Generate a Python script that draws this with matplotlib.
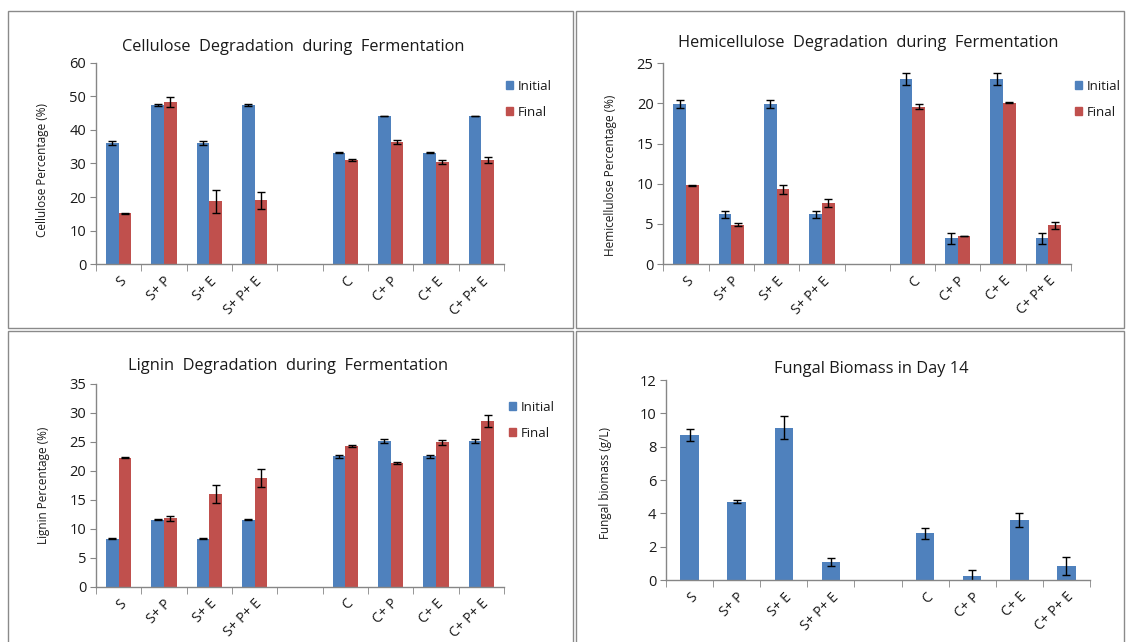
import matplotlib
matplotlib.use("Agg")
import matplotlib.pyplot as plt
from matplotlib.patches import Rectangle, Patch
from matplotlib.ticker import MultipleLocator, FixedLocator, NullFormatter
import numpy as np

plt.rcParams['font.family'] = ['Open Sans', 'DejaVu Sans']

# ---- data ----
categories = ["S", "S+ P", "S+ E", "S+ P+ E", "C", "C+ P", "C+ E", "C+ P+ E"]

cellulose_initial = [36.0, 47.5, 36.0, 47.5, 33.2, 44.1, 33.2, 44.1]
cellulose_initial_err = [0.6, 0.3, 0.6, 0.3, 0.2, 0.05, 0.2, 0.05]
cellulose_final = [15.2, 48.3, 18.8, 19.0, 31.0, 36.4, 30.4, 31.0]
cellulose_final_err = [0.2, 1.6, 3.4, 2.4, 0.2, 0.6, 0.6, 0.8]

hemi_initial = [19.9, 6.2, 19.9, 6.2, 23.0, 3.2, 23.0, 3.2]
hemi_initial_err = [0.5, 0.45, 0.5, 0.45, 0.75, 0.65, 0.75, 0.65]
hemi_final = [9.8, 4.9, 9.3, 7.6, 19.6, 3.5, 20.1, 4.8]
hemi_final_err = [0.05, 0.2, 0.55, 0.5, 0.3, 0.05, 0.05, 0.4]

lignin_initial = [8.3, 11.6, 8.3, 11.6, 22.5, 25.2, 22.5, 25.2]
lignin_initial_err = [0.1, 0.1, 0.1, 0.1, 0.2, 0.35, 0.2, 0.35]
lignin_final = [22.3, 11.8, 16.0, 18.8, 24.3, 21.4, 24.9, 28.6]
lignin_final_err = [0.1, 0.4, 1.5, 1.6, 0.1, 0.2, 0.4, 1.0]

biomass = [8.7, 4.7, 9.15, 1.1, 2.8, 0.25, 3.6, 0.85]
biomass_err = [0.35, 0.08, 0.7, 0.25, 0.35, 0.33, 0.4, 0.55]

BLUE = "#4F81BD"
RED = "#C0504D"
AXIS = "#868686"
TEXT = "#1a1a1a"

W, H = 1126, 642
fig = plt.figure(figsize=(W / 100, H / 100), dpi=100)

# slot positions: four S treatments, an empty slot, four C treatments
pos = np.array([0, 1, 2, 3, 5, 6, 7, 8], dtype=float)


def px_axes(x0, y0, x1, y1):
    return fig.add_axes([x0 / W, 1 - y1 / H, (x1 - x0) / W, (y1 - y0) / H])


def panel_box(x0, y0, x1, y1):
    fig.add_artist(Rectangle((x0 / W, 1 - y1 / H), (x1 - x0) / W, (y1 - y0) / H,
                             transform=fig.transFigure, fill=False,
                             edgecolor="#8a8a8a", linewidth=1.0))


def style_axes(ax, ymax, ystep):
    ax.set_xlim(-0.5, 8.5)
    ax.set_ylim(0, ymax)
    for s in ("top", "right"):
        ax.spines[s].set_visible(False)
    for s in ("left", "bottom"):
        ax.spines[s].set_color(AXIS)
        ax.spines[s].set_linewidth(1.0)
    ax.yaxis.set_major_locator(MultipleLocator(ystep))
    ax.tick_params(axis="y", length=4, color=AXIS, labelsize=10.5,
                   labelcolor=TEXT, pad=3)
    ax.set_xticks(pos)
    ax.set_xticklabels(categories, rotation=45, ha="right", va="top",
                       rotation_mode="anchor", fontsize=10, color=TEXT)
    ax.tick_params(axis="x", which="major", length=0, pad=7)
    ax.xaxis.set_minor_locator(FixedLocator(np.arange(-0.5, 9.0, 1.0)))
    ax.xaxis.set_minor_formatter(NullFormatter())
    ax.tick_params(axis="x", which="minor", length=5, color=AXIS)


def paired(ax, init, init_err, final, final_err, ymax, ystep, title, ylabel,
           title_xy, ylabel_xy, legend_xy):
    bw = 0.28
    ekw = dict(ecolor="black", elinewidth=1.0, capsize=2.8, capthick=1.0)
    ax.bar(pos - bw / 2, init, bw, color=BLUE, yerr=init_err, error_kw=ekw,
           label="Initial", zorder=2)
    ax.bar(pos + bw / 2, final, bw, color=RED, yerr=final_err, error_kw=ekw,
           label="Final", zorder=2)
    style_axes(ax, ymax, ystep)
    fig.text(title_xy[0] / W, 1 - title_xy[1] / H, title, ha="center",
             va="center", fontsize=11.8, color=TEXT)
    fig.text(ylabel_xy[0] / W, 1 - ylabel_xy[1] / H, ylabel, ha="center",
             va="center", rotation=90, fontsize=8.5, color=TEXT)
    handles = [Patch(color=BLUE, label="Initial"), Patch(color=RED, label="Final")]
    fig.legend(handles=handles, loc="upper left",
               bbox_to_anchor=(legend_xy[0] / W, 1 - legend_xy[1] / H),
               frameon=False, fontsize=9.5, handlelength=0.55,
               handleheight=0.55, handletextpad=0.35, labelspacing=0.95,
               borderpad=0, borderaxespad=0, labelcolor=TEXT)


# panel frames
panel_box(8, 11, 573, 328)
panel_box(576, 11, 1124, 328)
panel_box(8, 331, 573, 660)
panel_box(576, 331, 1124, 660)

ax1 = px_axes(96, 62.7, 504, 264.3)
paired(ax1, cellulose_initial, cellulose_initial_err, cellulose_final,
       cellulose_final_err, 60, 10,
       "Cellulose  Degradation  during  Fermentation", "Cellulose Percentage (%)",
       (293, 47), (43, 170), (506, 80))

ax2 = px_axes(663.3, 63.3, 1071, 264)
paired(ax2, hemi_initial, hemi_initial_err, hemi_final, hemi_final_err, 25, 5,
       "Hemicellulose  Degradation  during  Fermentation",
       "Hemicellulose Percentage (%)",
       (868, 43), (610, 175), (1075, 80))

ax3 = px_axes(96, 384, 504, 586.7)
paired(ax3, lignin_initial, lignin_initial_err, lignin_final, lignin_final_err,
       35, 5, "Lignin  Degradation  during  Fermentation",
       "Lignin Percentage (%)",
       (288, 366), (43, 485), (509, 401))

# fungal biomass panel
ax4 = px_axes(666, 380, 1090, 580)
ax4.bar(pos, biomass, 0.39, color=BLUE, yerr=biomass_err,
        error_kw=dict(ecolor="black", elinewidth=1.0, capsize=2.8, capthick=1.0),
        zorder=2)
style_axes(ax4, 12, 2)
fig.text(871 / W, 1 - 369 / H, "Fungal Biomass in Day 14", ha="center",
         va="center", fontsize=11.8, color=TEXT)
fig.text(606 / W, 1 - 483 / H, "Fungal biomass (g/L)", ha="center",
         va="center", rotation=90, fontsize=8.5, color=TEXT)

fig.savefig("out.png", dpi=100, facecolor="white")
